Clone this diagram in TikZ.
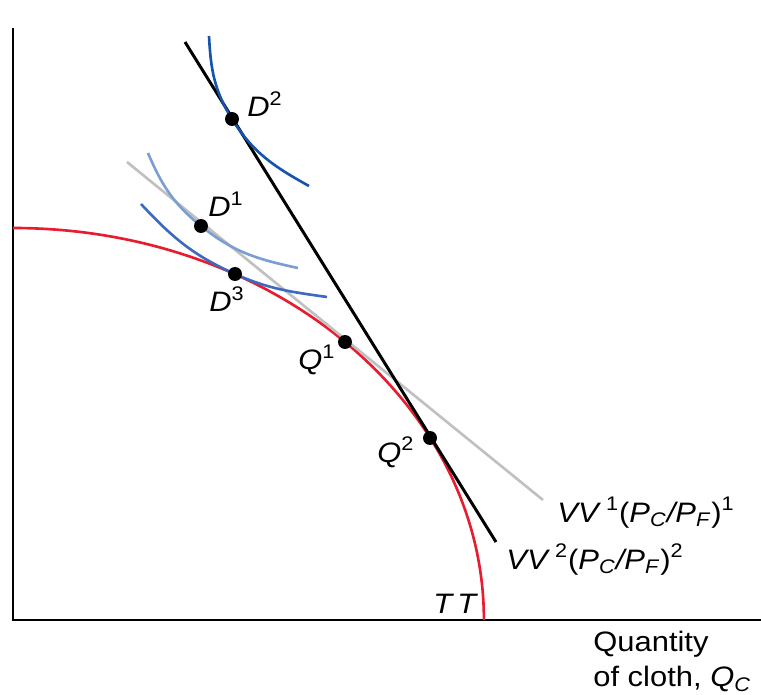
\documentclass[tikz,border=0pt]{standalone}
\usepackage{fontspec}
\setmainfont{Liberation Sans}
\usepackage{tikz}
\usetikzlibrary{positioning}
\usepackage{xcolor}
\definecolor{ttred}{RGB}{232,28,46}
\definecolor{icdark}{RGB}{22,84,172}
\definecolor{icmid}{RGB}{62,106,190}
\definecolor{iclight}{RGB}{124,158,212}
\definecolor{vvgray}{RGB}{192,192,192}

\begin{document}
\begin{tikzpicture}[x=0.02cm, y=0.02cm,
    dot/.style={circle, fill, inner sep=0pt, minimum size=0.28cm},
    lbl/.style={inner sep=0pt, font=\fontsize{16}{20}\selectfont, xscale=1.1, transform shape},
    axis/.style={line width=1.7pt},
    icurve/.style={line width=1.5pt}]
        \useasboundingbox (0,0) rectangle (761,694);

        % Axes
        \coordinate (ytop) at (13,666);
        \coordinate (origin) at (13,74);
        \coordinate (xend) at (761,74);
        \draw[axis] (ytop) -- (origin) -- (xend);

        % Transformation curve TT
        \coordinate (ttstart) at (13,466);
        \draw[ttred, line width=1.5pt] (ttstart) arc[start angle=90, end angle=0, x radius=9.42cm, y radius=7.84cm] coordinate (ttend);

        % Equilibrium points
        \coordinate (D2) at (232,575);
        \coordinate (D1) at (201,468);
        \coordinate (D3) at (235,420);
        \coordinate (Q1) at (345,352);
        \coordinate (Q2) at (430,256);

        % Isovalue lines
        \coordinate (vv1a) at (127,532);
        \coordinate (vv1b) at (543,194);
        \coordinate (vv2a) at (185,652);
        \coordinate (vv2b) at (496,152);
        \draw[vvgray, line width=1.5pt] (vv1a) -- (vv1b);
        \draw[line width=1.7pt] (vv2a) -- (vv2b);

        % Indifference curves
        \coordinate (ic2a) at (209,658);
        \coordinate (ic2b) at (309,508);
        \coordinate (ic1a) at (148,541);
        \coordinate (ic1b) at (298,426);
        \coordinate (ic3a) at (141,490);
        \coordinate (ic3b) at (327,397);
        \draw[icurve, icdark] (ic2a) to[out=-87, in=122] (D2) to[out=-58, in=151] (ic2b);
        \draw[icurve, iclight] (ic1a) to[out=-67, in=141] (D1) to[out=-39, in=168] (ic1b);
        \draw[icurve, icmid] (ic3a) to[out=-47, in=156] (D3) to[out=-24, in=172] (ic3b);

        % Dots on top
        \node[dot] (D2dot) at (D2) {};
        \node[dot] (D1dot) at (D1) {};
        \node[dot] (D3dot) at (D3) {};
        \node[dot] (Q1dot) at (Q1) {};
        \node[dot] (Q2dot) at (Q2) {};

        % Labels
        \node[lbl, anchor=base west] (D2lbl) at (247,577) {\textit{D}\textsuperscript{2}};
        \node[lbl, anchor=base west] (D1lbl) at (208,477) {\textit{D}\textsuperscript{1}};
        \node[lbl, anchor=base west] (D3lbl) at (209,382) {\textit{D}\textsuperscript{3}};
        \node[lbl, anchor=base west] (Q1lbl) at (298,324) {\textit{Q}\textsuperscript{1}};
        \node[lbl, anchor=base west] (Q2lbl) at (377,232) {\textit{Q}\textsuperscript{2}};
        \node[lbl, anchor=base west] (vv1lbl) at (557,172) {\textit{VV}\,\textsuperscript{1}(\textit{P}\textsubscript{\textit{C}}\textit{/P}\textsubscript{\textit{F}})\textsuperscript{1}};
        \node[lbl, anchor=base west] (vv2lbl) at (506,125) {\textit{VV}\,\textsuperscript{2}(\textit{P}\textsubscript{\textit{C}}\textit{/P}\textsubscript{\textit{F}})\textsuperscript{2}};
        \node[lbl, anchor=base west] (ttlbl) at (433,81) {\textit{T\,T}};
        \node[lbl, anchor=north west, align=left] (xlbl) at (593,63) {Quantity\\of cloth, \textit{Q}\textsubscript{\textit{C}}};
    \end{tikzpicture}
\end{document}
